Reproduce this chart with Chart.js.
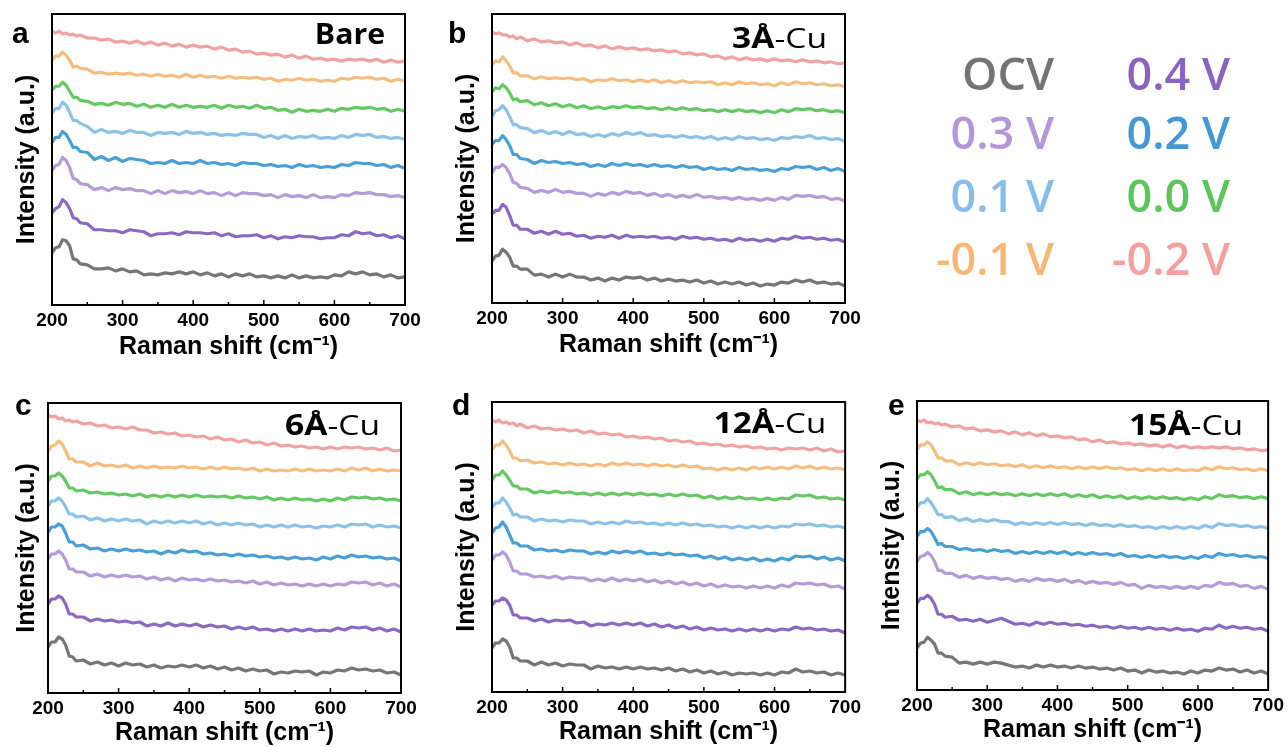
<!DOCTYPE html>
<html>
<head>
<meta charset="utf-8">
<script src="https://cdn.jsdelivr.net/npm/chart.js@4.4.0/dist/chart.umd.min.js"></script>
<style>
    html, body { margin: 0; padding: 0; background: #fff; overflow: hidden; }
    body { width: 1288px; height: 747px; position: relative; }
    canvas { position: absolute; }
    .leg {
        position: absolute;
        width: 220px;
        text-align: right;
        white-space: nowrap;
        font-family: 'Open Sans', sans-serif;
        font-weight: 600;
        font-size: 45px;
        line-height: 45px;
    }
</style>
</head>
<body>
<canvas id="graficoBare" width="425" height="365" style="left:0px;top:0px"></canvas>
<canvas id="grafico3A" width="425" height="363" style="left:440px;top:0px"></canvas>
<canvas id="grafico6A" width="425" height="365" style="left:0px;top:388px"></canvas>
<canvas id="grafico12A" width="425" height="365" style="left:440px;top:387px"></canvas>
<canvas id="grafico15A" width="423" height="365" style="left:865px;top:385px"></canvas>
<div id="legenda"></div>

<script>
// Raman shift (cm-1), finer steps around the 215 cm-1 band
const ramanShift = [200, 205, 210, 215, 220, 225, 230, 235, 240,
    250, 260, 270, 280, 290, 300, 310, 320, 330, 340,
    350, 360, 370, 380, 390, 400, 410, 420, 430, 440,
    450, 460, 470, 480, 490, 500, 510, 520, 530, 540,
    550, 560, 570, 580, 590, 600, 610, 620, 630, 640,
    650, 660, 670, 680, 690, 700];
const shiftTicks = [200, 300, 400, 500, 600, 700];

const potentials = ['OCV', '0.4 V', '0.3 V', '0.2 V', '0.1 V', '0.0 V', '-0.1 V', '-0.2 V'];
const lineColors = ['#767676', '#8C68C2', '#B59BD8', '#4A9FD6', '#8CC2E8', '#66C864', '#F5BE80', '#F0A3A3'];
const legendColors = ['#747474', '#8B63BF', '#B497D8', '#4599D2', '#88BEE6', '#5EC45C', '#F5B877', '#F2A0A0'];

// Bare (spectra stacked with offset, a.u.)
const bareOcv = [52, 57, 58, 65, 64, 59, 46, 45, 41,
    40, 36, 36, 37, 34, 36, 33, 34, 30, 31,
    30, 32, 31, 33, 31, 33, 30, 32, 29, 31,
    28, 31, 29, 31, 28, 29, 27, 29, 27, 30,
    27, 29, 27, 28, 27, 30, 29, 33, 31, 33,
    30, 31, 28, 30, 27, 28];
const bare04 = [92, 96, 98, 105, 102, 96, 87, 86, 82,
    81, 75, 75, 74, 74, 72, 75, 74, 73, 69,
    71, 71, 72, 70, 73, 72, 72, 71, 72, 69,
    71, 68, 69, 69, 70, 67, 69, 66, 68, 67,
    69, 68, 68, 66, 67, 67, 70, 69, 73, 71,
    72, 69, 70, 67, 69, 66];
const bare03 = [134, 139, 140, 147, 144, 137, 126, 125, 121,
    120, 115, 117, 114, 117, 115, 116, 114, 114, 111,
    114, 111, 114, 112, 113, 111, 114, 111, 112, 109,
    112, 109, 112, 111, 111, 109, 110, 107, 110, 108,
    109, 107, 110, 107, 108, 107, 110, 109, 112, 111,
    112, 110, 110, 108, 109, 107];
const bare02 = [162, 167, 167, 173, 170, 164, 157, 157, 153,
    152, 145, 148, 144, 147, 143, 146, 145, 144, 141,
    142, 141, 144, 141, 142, 141, 144, 141, 142, 140,
    141, 139, 142, 141, 141, 139, 140, 138, 139, 137,
    140, 138, 139, 137, 138, 137, 140, 139, 142, 141,
    141, 139, 140, 137, 139, 136];
const bare01 = [191, 196, 196, 202, 199, 192, 184, 184, 181,
    178, 172, 175, 172, 173, 171, 174, 172, 172, 169,
    172, 171, 172, 170, 173, 171, 172, 170, 171, 169,
    170, 169, 171, 170, 170, 167, 169, 166, 169, 166,
    168, 167, 169, 166, 167, 166, 169, 167, 170, 169,
    170, 167, 168, 166, 167, 165];
const bare00 = [214, 218, 218, 222, 219, 213, 207, 207, 204,
    203, 200, 201, 199, 202, 200, 201, 198, 200, 197,
    199, 197, 200, 197, 199, 197, 198, 197, 199, 196,
    199, 197, 198, 196, 199, 196, 197, 194, 195, 192,
    195, 193, 194, 193, 195, 193, 196, 195, 197, 196,
    197, 195, 196, 193, 195, 193];
const bareM01 = [244, 248, 248, 252, 249, 244, 237, 238, 236,
    235, 231, 232, 230, 231, 230, 231, 229, 230, 228,
    230, 228, 229, 227, 230, 227, 229, 227, 228, 226,
    228, 226, 227, 226, 227, 225, 226, 223, 225, 224,
    226, 224, 225, 223, 224, 223, 226, 225, 227, 226,
    227, 225, 226, 223, 225, 223];
const bareM02 = [273, 271, 273, 270, 271, 269, 270, 268, 269,
    266, 266, 264, 265, 262, 263, 261, 263, 260, 262,
    259, 261, 258, 260, 257, 259, 257, 258, 255, 257,
    254, 255, 252, 253, 250, 251, 249, 250, 247, 249,
    246, 248, 245, 246, 244, 245, 243, 245, 244, 245,
    243, 245, 242, 244, 242, 243];

// 3Å-Cu
const cu3Ocv = [42, 47, 48, 54, 51, 46, 37, 37, 34,
    34, 28, 29, 26, 29, 26, 29, 26, 26, 23,
    25, 22, 25, 23, 26, 25, 26, 23, 25, 22,
    24, 22, 23, 21, 23, 20, 22, 19, 21, 19,
    21, 18, 20, 17, 19, 18, 21, 20, 23, 21,
    23, 20, 21, 19, 20, 17];
const cu3V04 = [89, 93, 93, 99, 96, 88, 78, 78, 74,
    74, 70, 72, 69, 72, 69, 70, 67, 68, 65,
    67, 66, 68, 65, 68, 66, 67, 66, 67, 65,
    66, 64, 67, 65, 66, 64, 65, 63, 64, 62,
    65, 63, 64, 62, 64, 62, 65, 64, 67, 65,
    66, 64, 65, 63, 64, 61];
const cu3V03 = [131, 136, 136, 139, 136, 130, 121, 120, 116,
    115, 111, 113, 111, 114, 111, 112, 110, 110, 107,
    110, 108, 111, 109, 112, 110, 111, 108, 110, 107,
    109, 106, 108, 106, 109, 106, 107, 105, 106, 104,
    106, 104, 105, 103, 105, 103, 106, 104, 108, 107,
    108, 106, 107, 104, 105, 102];
const cu3V02 = [159, 163, 163, 168, 164, 158, 149, 149, 145,
    144, 140, 143, 141, 142, 140, 141, 139, 140, 137,
    139, 137, 140, 138, 140, 138, 139, 137, 139, 137,
    138, 136, 138, 136, 137, 134, 136, 134, 135, 133,
    136, 134, 135, 133, 134, 132, 135, 134, 137, 136,
    137, 134, 136, 133, 135, 132];
const cu3V01 = [187, 193, 194, 198, 194, 187, 179, 179, 176,
    175, 171, 173, 170, 172, 169, 172, 169, 170, 167,
    169, 167, 170, 168, 171, 169, 171, 168, 169, 167,
    168, 166, 168, 166, 167, 165, 167, 164, 166, 164,
    167, 165, 166, 164, 165, 163, 166, 165, 167, 166,
    168, 165, 166, 164, 165, 162];
const cu3V00 = [212, 216, 215, 219, 216, 211, 204, 205, 202,
    203, 199, 201, 198, 200, 197, 199, 196, 198, 195,
    197, 195, 197, 196, 198, 196, 197, 195, 196, 194,
    196, 194, 196, 194, 195, 193, 194, 192, 194, 192,
    194, 192, 193, 191, 193, 191, 194, 192, 195, 194,
    195, 193, 194, 192, 193, 191];
const cu3M01 = [239, 243, 242, 247, 243, 238, 231, 231, 228,
    228, 225, 227, 225, 226, 225, 226, 224, 225, 222,
    224, 223, 225, 223, 224, 222, 224, 222, 224, 221,
    223, 221, 223, 221, 222, 221, 222, 219, 221, 219,
    222, 220, 221, 219, 220, 218, 221, 219, 222, 220,
    221, 219, 220, 218, 219, 217];
const cu3M02 = [272, 270, 271, 269, 269, 267, 268, 265, 267,
    263, 265, 262, 263, 261, 262, 259, 261, 258, 259,
    256, 258, 255, 257, 255, 256, 254, 255, 253, 254,
    252, 253, 250, 251, 249, 250, 247, 248, 245, 247,
    244, 246, 244, 245, 243, 245, 243, 244, 242, 244,
    242, 243, 241, 242, 240, 241];

// 6Å-Cu
const cu6Ocv = [46, 51, 51, 56, 54, 48, 37, 36, 32,
    33, 29, 31, 28, 30, 27, 30, 28, 29, 26,
    28, 25, 27, 26, 28, 26, 28, 25, 27, 24,
    26, 23, 25, 22, 24, 22, 23, 19, 21, 20,
    22, 21, 22, 18, 21, 20, 23, 22, 25, 23,
    24, 22, 23, 20, 21, 18];
const cu6V04 = [89, 94, 94, 97, 95, 89, 79, 79, 76,
    76, 72, 74, 72, 73, 71, 72, 70, 71, 67,
    69, 67, 70, 67, 69, 67, 69, 66, 68, 66,
    67, 64, 66, 64, 66, 63, 64, 62, 64, 62,
    64, 62, 64, 62, 63, 62, 65, 63, 66, 65,
    66, 63, 65, 62, 64, 61];
const cu6V03 = [134, 139, 139, 142, 139, 133, 124, 124, 121,
    121, 117, 119, 116, 118, 116, 118, 116, 117, 114,
    116, 113, 115, 112, 115, 113, 114, 112, 114, 112,
    113, 111, 112, 110, 112, 109, 111, 108, 110, 108,
    109, 107, 109, 107, 109, 107, 109, 108, 111, 110,
    111, 108, 110, 107, 109, 106];
const cu6V02 = [161, 166, 166, 169, 167, 160, 151, 151, 147,
    148, 144, 145, 142, 144, 142, 144, 142, 143, 141,
    142, 139, 142, 140, 143, 141, 142, 139, 140, 138,
    139, 137, 139, 137, 138, 136, 137, 135, 136, 134,
    136, 134, 135, 133, 136, 134, 137, 135, 138, 136,
    137, 135, 136, 134, 135, 132];
const cu6V01 = [187, 192, 192, 195, 192, 186, 179, 179, 176,
    177, 173, 175, 172, 174, 172, 174, 172, 173, 169,
    172, 170, 172, 170, 172, 170, 172, 169, 171, 168,
    170, 168, 170, 168, 169, 166, 168, 166, 168, 166,
    168, 166, 167, 165, 167, 166, 168, 166, 169, 168,
    169, 166, 168, 166, 167, 165];
const cu6V00 = [212, 217, 217, 220, 217, 212, 205, 205, 202,
    203, 200, 201, 199, 200, 198, 199, 197, 199, 196,
    198, 196, 198, 196, 198, 196, 198, 196, 197, 196,
    197, 195, 197, 195, 196, 194, 196, 193, 195, 193,
    195, 193, 194, 192, 194, 192, 195, 193, 196, 195,
    196, 194, 195, 193, 194, 192];
const cu6M01 = [242, 247, 248, 252, 249, 242, 234, 234, 231,
    231, 227, 230, 227, 228, 226, 228, 225, 227, 225,
    227, 225, 226, 225, 227, 225, 226, 224, 226, 224,
    226, 224, 225, 223, 225, 222, 224, 222, 223, 222,
    224, 222, 224, 222, 223, 222, 224, 222, 225, 223,
    225, 222, 224, 222, 223, 222];
const cu6M02 = [278, 276, 277, 274, 275, 272, 273, 271, 272,
    269, 270, 267, 268, 265, 266, 264, 266, 263, 263,
    260, 261, 259, 260, 257, 258, 256, 257, 254, 256,
    253, 254, 251, 253, 250, 251, 248, 250, 247, 248,
    246, 247, 245, 246, 244, 246, 244, 246, 245, 246,
    244, 245, 243, 245, 242, 243];

// 12Å-Cu
const cu12Ocv = [44, 49, 49, 53, 51, 45, 34, 34, 31,
    31, 27, 30, 27, 29, 26, 28, 27, 27, 23,
    26, 24, 25, 23, 25, 23, 25, 23, 24, 22,
    24, 21, 23, 20, 22, 19, 21, 18, 20, 17,
    19, 18, 19, 17, 19, 17, 20, 19, 23, 20,
    21, 19, 20, 17, 19, 17];
const cu12V04 = [87, 91, 91, 94, 92, 87, 77, 77, 74,
    74, 71, 73, 70, 72, 71, 72, 69, 70, 66,
    68, 67, 69, 67, 69, 67, 69, 66, 68, 65,
    67, 64, 66, 63, 65, 62, 64, 62, 63, 61,
    63, 61, 63, 61, 63, 61, 63, 62, 65, 63,
    64, 62, 63, 61, 62, 59];
const cu12V03 = [132, 137, 137, 140, 137, 130, 121, 121, 118,
    118, 115, 116, 114, 116, 113, 115, 114, 114, 111,
    113, 111, 114, 111, 113, 111, 113, 110, 112, 109,
    111, 108, 110, 107, 109, 106, 108, 105, 107, 105,
    106, 104, 106, 104, 106, 104, 107, 105, 109, 108,
    109, 107, 108, 105, 106, 103];
const cu12V02 = [159, 164, 165, 170, 165, 157, 149, 149, 146,
    146, 142, 143, 141, 142, 140, 142, 141, 141, 138,
    140, 138, 141, 139, 141, 139, 141, 138, 139, 137,
    139, 137, 138, 136, 137, 134, 136, 133, 135, 132,
    134, 132, 134, 131, 133, 131, 134, 132, 136, 135,
    136, 133, 135, 132, 134, 131];
const cu12V01 = [184, 189, 189, 194, 190, 184, 177, 178, 175,
    175, 171, 173, 171, 172, 170, 172, 171, 171, 168,
    170, 168, 170, 168, 171, 169, 170, 168, 169, 167,
    169, 167, 169, 167, 168, 166, 167, 165, 166, 164,
    166, 164, 166, 164, 166, 164, 166, 165, 168, 167,
    168, 166, 167, 165, 166, 164];
const cu12V00 = [212, 217, 217, 221, 217, 212, 206, 206, 203,
    203, 199, 201, 199, 201, 199, 200, 198, 199, 197,
    199, 197, 199, 197, 199, 197, 199, 197, 198, 196,
    198, 196, 198, 196, 197, 194, 196, 193, 195, 193,
    195, 193, 194, 192, 194, 192, 194, 193, 197, 196,
    197, 194, 195, 193, 194, 192];
const cu12M01 = [242, 247, 247, 251, 247, 241, 234, 234, 231,
    232, 229, 230, 228, 229, 227, 229, 227, 228, 226,
    228, 226, 229, 227, 229, 227, 228, 226, 228, 226,
    227, 225, 227, 225, 226, 223, 224, 222, 224, 222,
    224, 222, 225, 223, 225, 223, 225, 223, 226, 224,
    226, 223, 225, 223, 224, 222];
const cu12M02 = [272, 270, 272, 269, 270, 268, 269, 266, 268,
    264, 266, 263, 264, 262, 263, 261, 262, 259, 261,
    258, 259, 257, 258, 255, 256, 254, 255, 253, 254,
    251, 252, 250, 251, 248, 249, 247, 248, 246, 247,
    245, 246, 244, 245, 243, 244, 242, 244, 243, 244,
    242, 244, 241, 243, 240, 241];

// 15Å-Cu
const cu15Ocv = [42, 47, 48, 53, 50, 46, 37, 37, 34,
    33, 27, 28, 26, 28, 26, 28, 27, 25, 23,
    24, 22, 25, 23, 25, 23, 24, 22, 24, 22,
    23, 21, 22, 20, 22, 19, 20, 17, 20, 18,
    19, 17, 18, 16, 19, 17, 20, 19, 22, 20,
    21, 18, 20, 17, 19, 16];
const cu15V04 = [87, 92, 92, 95, 92, 86, 76, 76, 73,
    74, 70, 71, 69, 71, 68, 70, 72, 69, 66,
    67, 65, 68, 66, 68, 66, 67, 65, 66, 64,
    65, 63, 64, 62, 64, 62, 63, 61, 63, 61,
    62, 60, 62, 60, 61, 59, 62, 61, 65, 62,
    64, 62, 63, 61, 62, 59];
const cu15V03 = [129, 134, 135, 138, 135, 129, 120, 120, 117,
    117, 113, 115, 112, 114, 112, 113, 111, 112, 109,
    111, 109, 112, 110, 111, 109, 111, 108, 110, 107,
    109, 107, 108, 106, 108, 105, 106, 102, 105, 103,
    104, 102, 104, 102, 104, 102, 105, 104, 108, 106,
    107, 104, 105, 102, 104, 101];
const cu15V02 = [154, 159, 159, 162, 159, 153, 146, 147, 144,
    144, 141, 142, 140, 141, 139, 141, 139, 140, 137,
    139, 137, 139, 137, 139, 137, 139, 136, 138, 136,
    138, 136, 137, 135, 137, 134, 135, 133, 135, 133,
    135, 133, 134, 132, 134, 132, 135, 133, 137, 135,
    136, 134, 135, 133, 134, 132];
const cu15V01 = [183, 188, 188, 192, 188, 182, 176, 176, 173,
    174, 170, 172, 169, 171, 169, 171, 169, 169, 166,
    168, 166, 168, 166, 168, 166, 168, 166, 167, 165,
    167, 165, 166, 164, 166, 164, 165, 163, 164, 162,
    164, 162, 164, 162, 164, 162, 165, 163, 167, 165,
    166, 164, 165, 163, 164, 162];
const cu15V00 = [212, 216, 216, 219, 216, 210, 203, 204, 201,
    201, 197, 199, 196, 198, 196, 198, 196, 197, 195,
    197, 195, 197, 195, 197, 195, 197, 194, 196, 194,
    196, 193, 195, 193, 195, 192, 194, 192, 194, 192,
    194, 192, 193, 191, 193, 191, 194, 192, 196, 194,
    195, 193, 194, 192, 194, 192];
const cu15M01 = [241, 246, 246, 249, 246, 240, 233, 233, 230,
    230, 226, 228, 226, 228, 226, 227, 225, 226, 224,
    226, 223, 225, 223, 225, 223, 224, 222, 224, 222,
    224, 222, 224, 222, 223, 221, 222, 220, 222, 220,
    222, 220, 222, 220, 221, 220, 223, 221, 224, 222,
    223, 221, 222, 220, 222, 220];
const cu15M02 = [271, 269, 271, 268, 269, 267, 268, 266, 267,
    264, 265, 262, 263, 260, 261, 259, 260, 257, 259,
    256, 258, 255, 257, 254, 255, 253, 254, 251, 252,
    249, 251, 248, 249, 247, 248, 246, 247, 245, 246,
    244, 246, 243, 245, 243, 244, 243, 244, 243, 244,
    242, 243, 241, 242, 240, 241];

// frame, inward ticks, panel letter and sample name
const molduraPainel = {
    id: 'molduraPainel',
    afterDraw(chart, args, opts) {
        const { ctx, chartArea: { left, right, top, bottom } } = chart;
        const eixoX = chart.scales.x;

        ctx.save();
        ctx.strokeStyle = '#000';
        ctx.lineWidth = 2;
        ctx.strokeRect(left, top, right - left, bottom - top);

        ctx.lineWidth = 1.5;
        for (let v = eixoX.min + 50; v < eixoX.max; v += 50) {
            const px = eixoX.getPixelForValue(v);
            const len = v % 100 === 0 ? 5 : 3;
            ctx.beginPath();
            ctx.moveTo(px, bottom);
            ctx.lineTo(px, bottom - len);
            ctx.stroke();
        }

        ctx.fillStyle = '#000';
        ctx.textBaseline = 'alphabetic';
        ctx.textAlign = 'left';
        ctx.font = 'bold 30px "Liberation Sans", Arial, sans-serif';
        ctx.fillText(opts.letter, left + opts.letterAt[0], top + opts.letterAt[1]);

        // sample name, slightly widened, right aligned
        ctx.translate(right + opts.nameAt[0], top + opts.nameAt[1]);
        ctx.scale(opts.stretch, 1);
        ctx.textAlign = 'right';
        ctx.font = '28px "Open Sans", sans-serif';
        let w = 0;
        if (opts.thin) {
            ctx.fillText(opts.thin, 0, 0);
            w = ctx.measureText(opts.thin).width;
        }
        ctx.font = 'bold 28px "Open Sans", sans-serif';
        ctx.fillText(opts.bold, -w, 0);
        ctx.restore();
    }
};

function criarPainel(id, series, texto, caixa) {
    new Chart(document.getElementById(id), {
        type: 'line',
        data: {
            datasets: series.map((valores, i) => ({
                label: potentials[i],
                data: ramanShift.map((x, k) => ({ x: x, y: valores[k] })),
                borderColor: lineColors[i],
                borderWidth: 3.2,
                pointRadius: 0,
                tension: 0,
                borderJoinStyle: 'round'
            }))
        },
        options: {
            responsive: false,
            animation: false,
            devicePixelRatio: 1,
            layout: { padding: caixa.padding },
            plugins: {
                legend: { display: false },
                tooltip: { enabled: false },
                molduraPainel: texto
            },
            scales: {
                x: {
                    type: 'linear',
                    min: shiftTicks[0],
                    max: shiftTicks[shiftTicks.length - 1],
                    afterBuildTicks: (s) => { s.ticks = shiftTicks.map(v => ({ value: v })); },
                    afterFit: (s) => { s.height = 60; },
                    grid: { display: false, drawTicks: false },
                    border: { display: false },
                    ticks: {
                        padding: 4,
                        color: '#000',
                        font: { family: '"Liberation Sans", Arial, sans-serif', size: 19, weight: 'bold' }
                    },
                    title: {
                        display: true,
                        text: 'Raman shift (cm⁻¹)',
                        color: '#000',
                        font: { family: '"Liberation Sans", Arial, sans-serif', size: 25, weight: 'bold' },
                        padding: { top: 0, bottom: caixa.titleBottom }
                    }
                },
                y: {
                    min: 0,
                    max: 290,
                    afterFit: (s) => { s.width = caixa.yWidth; },
                    ticks: { display: false },
                    grid: { display: false, drawTicks: false },
                    border: { display: false },
                    title: {
                        display: true,
                        text: 'Intensity (a.u.)',
                        color: '#000',
                        font: { family: '"Liberation Sans", Arial, sans-serif', size: 25, weight: 'bold' },
                        padding: { top: 4, bottom: 0 }
                    }
                }
            }
        },
        plugins: [molduraPainel]
    });
}

criarPainel('graficoBare',
    [bareOcv, bare04, bare03, bare02, bare01, bare00, bareM01, bareM02],
    { letter: 'a', letterAt: [-40, 29], bold: 'Bare', thin: '', nameAt: [-20, 30], stretch: 1.08 },
    { padding: { left: 8, top: 14, right: 20, bottom: 0 }, yWidth: 44, titleBottom: 3 });

criarPainel('grafico3A',
    [cu3Ocv, cu3V04, cu3V03, cu3V02, cu3V01, cu3V00, cu3M01, cu3M02],
    { letter: 'b', letterAt: [-44, 29], bold: '3Å', thin: '-Cu', nameAt: [-18, 34], stretch: 1.2 },
    { padding: { left: 8, top: 14, right: 20, bottom: 0 }, yWidth: 44, titleBottom: 3 });

criarPainel('grafico6A',
    [cu6Ocv, cu6V04, cu6V03, cu6V02, cu6V01, cu6V00, cu6M01, cu6M02],
    { letter: 'c', letterAt: [-33, 12], bold: '6Å', thin: '-Cu', nameAt: [-21, 32], stretch: 1.2 },
    { padding: { left: 8, top: 15, right: 24, bottom: 0 }, yWidth: 40, titleBottom: 5 });

criarPainel('grafico12A',
    [cu12Ocv, cu12V04, cu12V03, cu12V02, cu12V01, cu12V00, cu12M01, cu12M02],
    { letter: 'd', letterAt: [-40, 13], bold: '12Å', thin: '-Cu', nameAt: [-19, 31], stretch: 1.18 },
    { padding: { left: 8, top: 15, right: 19, bottom: 0 }, yWidth: 44, titleBottom: 5 });

criarPainel('grafico15A',
    [cu15Ocv, cu15V04, cu15V03, cu15V02, cu15V01, cu15V00, cu15M01, cu15M02],
    { letter: 'e', letterAt: [-29, 14], bold: '15Å', thin: '-Cu', nameAt: [-25, 34], stretch: 1.2 },
    { padding: { left: 8, top: 16, right: 16, bottom: 0 }, yWidth: 44, titleBottom: 5 });

// legend: two columns, right aligned
const legendBaselines = [90, 149, 212, 275];
const legendRight = [1054, 1230];
const legenda = document.getElementById('legenda');
potentials.forEach((nome, i) => {
    const el = document.createElement('div');
    el.className = 'leg';
    el.textContent = nome;
    el.style.color = legendColors[i];
    el.style.left = (legendRight[i % 2] - 220) + 'px';
    el.style.top = (legendBaselines[Math.floor(i / 2)] - 40) + 'px';
    legenda.appendChild(el);
});
</script>
</body>
</html>
